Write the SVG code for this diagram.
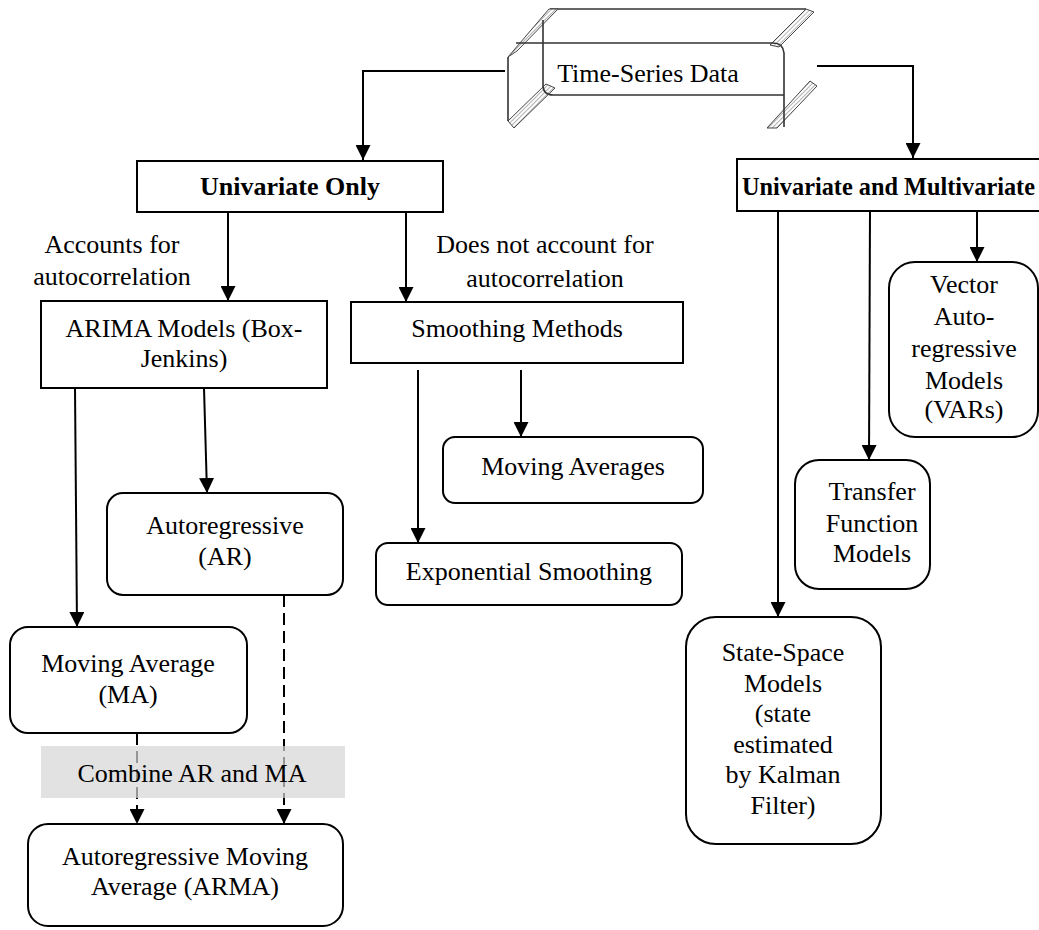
<svg xmlns="http://www.w3.org/2000/svg" width="1039" height="930" viewBox="0 0 1039 930">
<style>
text{font-family:"Liberation Serif","Times New Roman",serif;font-size:26px;fill:#000;text-anchor:middle}
.b{font-weight:bold}
.box{fill:#fff;stroke:#000;stroke-width:2}
.ln{fill:none;stroke:#000;stroke-width:2}
.dash{fill:none;stroke:#000;stroke-width:2;stroke-dasharray:12 6}
.sc{fill:none;stroke:#333;stroke-width:1.6}
.hb{fill:url(#hatch);stroke:#444;stroke-width:1}
</style>
<defs>
<marker id="ah" viewBox="0 0 15 15" refX="15" refY="7.5" markerWidth="15" markerHeight="15" markerUnits="userSpaceOnUse" orient="auto">
<path d="M0,0 L15,7.5 L0,15 z" fill="#000"/>
</marker>
<pattern id="hatch" width="3" height="3" patternUnits="userSpaceOnUse" patternTransform="rotate(-45)">
<rect width="3" height="3" fill="#fff"/>
<line x1="0" y1="0" x2="3" y2="0" stroke="#666" stroke-width="1"/>
</pattern>
</defs>

<g id="connectors">
<path class="ln" d="M505,71 H363 V160" marker-end="url(#ah)"/>
<path class="ln" d="M817,66 H913 V158" marker-end="url(#ah)"/>
<path class="ln" d="M228,212 V301" marker-end="url(#ah)"/>
<path class="ln" d="M406,212 V302" marker-end="url(#ah)"/>
<path class="ln" d="M75,388 L77,627" marker-end="url(#ah)"/>
<path class="ln" d="M204,388 L207,493" marker-end="url(#ah)"/>
<path class="ln" d="M521,370 V437" marker-end="url(#ah)"/>
<path class="ln" d="M418,370 V543" marker-end="url(#ah)"/>
<path class="dash" d="M284,595 V824" marker-end="url(#ah)"/>
<path class="dash" d="M137,733 V824" marker-end="url(#ah)"/>
<path class="ln" d="M778,211 V617" marker-end="url(#ah)"/>
<path class="ln" d="M870,211 L869,460" marker-end="url(#ah)"/>
<path class="ln" d="M977,210 V262" marker-end="url(#ah)"/>
</g>

<g id="time-series">
<path class="sc" d="M550,9 H806"/>
<polygon class="hb" points="508,57 549,9 558,9 517,51"/>
<polygon class="hb" points="508,121 546,84 555,88 514,128"/>
<polygon class="hb" points="770,45 806,9 814,12 779,47"/>
<polygon class="hb" points="767,128 810,81 817,86 777,128"/>
<path class="sc" d="M508,57 V121"/>
<path class="sc" d="M516,43 H773 Q783,43 784,53 V127"/>
<path class="sc" d="M543,20 V85 Q543,95 553,95 H784"/>
<text x="648" y="82">Time-Series Data</text>
</g>

<g id="univariate-only">
<rect class="box" x="137" y="161" width="306" height="51"/>
<text class="b" x="290" y="195">Univariate Only</text>
</g>

<g id="univariate-multivariate">
<rect class="box" x="737" y="159" width="310" height="52"/>
<text class="b" x="742" y="195" style="text-anchor:start" textLength="293" lengthAdjust="spacingAndGlyphs">Univariate and Multivariate</text>
</g>

<g id="label-accounts">
<text x="112" y="253">Accounts for</text>
<text x="112" y="285">autocorrelation</text>
</g>

<g id="label-not-accounts">
<text x="545" y="253">Does not account for</text>
<text x="545" y="287">autocorrelation</text>
</g>

<g id="arima">
<rect class="box" x="41" y="301" width="286" height="87"/>
<text x="184" y="337">ARIMA Models (Box-</text>
<text x="184" y="367">Jenkins)</text>
</g>

<g id="smoothing">
<rect class="box" x="351" y="302" width="332" height="61"/>
<text x="517" y="337">Smoothing Methods</text>
</g>

<g id="moving-averages">
<rect class="box" x="443" y="437" width="260" height="66" rx="12"/>
<text x="573" y="475">Moving Averages</text>
</g>

<g id="exponential">
<rect class="box" x="376" y="543" width="306" height="62" rx="12"/>
<text x="529" y="580">Exponential Smoothing</text>
</g>

<g id="ar">
<rect class="box" x="107" y="493" width="236" height="102" rx="16"/>
<text x="225" y="534">Autoregressive</text>
<text x="225" y="565">(AR)</text>
</g>

<g id="ma">
<rect class="box" x="10" y="627" width="237" height="106" rx="18"/>
<text x="128" y="672">Moving Average</text>
<text x="128" y="703">(MA)</text>
</g>

<g id="combine">
<rect x="41" y="746" width="304" height="52" fill="#d6d6d6" opacity="0.7"/>
<text x="192" y="782">Combine AR and MA</text>
</g>

<g id="arma">
<rect class="box" x="28" y="824" width="315" height="102" rx="20"/>
<text x="185" y="865">Autoregressive Moving</text>
<text x="185" y="895">Average (ARMA)</text>
</g>

<g id="var">
<rect class="box" x="889" y="262" width="149" height="175" rx="26"/>
<text x="964" y="293">Vector</text>
<text x="964" y="325">Auto-</text>
<text x="964" y="357">regressive</text>
<text x="964" y="389">Models</text>
<text x="964" y="418">(VARs)</text>
</g>

<g id="transfer">
<rect class="box" x="795" y="460" width="135" height="129" rx="24"/>
<text x="872" y="500">Transfer</text>
<text x="872" y="532">Function</text>
<text x="872" y="562">Models</text>
</g>

<g id="state-space">
<rect class="box" x="686" y="617" width="195" height="227" rx="30"/>
<text x="783" y="661">State-Space</text>
<text x="783" y="692">Models</text>
<text x="783" y="722">(state</text>
<text x="783" y="753">estimated</text>
<text x="783" y="783">by Kalman</text>
<text x="783" y="814">Filter)</text>
</g>
</svg>
